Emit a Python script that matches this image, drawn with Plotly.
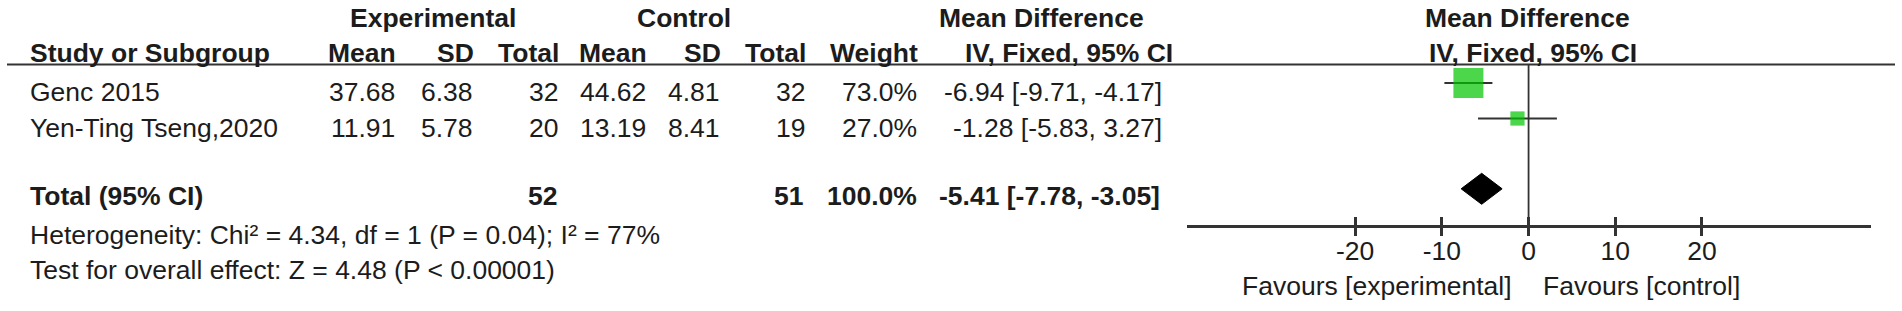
import plotly.graph_objects as go

# ---------------- data ----------------
studies = ["Genc 2015", "Yen-Ting Tseng,2020"]
exp_mean = [37.68, 11.91]
exp_sd = [6.38, 5.78]
exp_n = [32, 20]
ctl_mean = [44.62, 13.19]
ctl_sd = [4.81, 8.41]
ctl_n = [32, 19]
weight = [73.0, 27.0]
md = [-6.94, -1.28]
ci_lo = [-9.71, -5.83]
ci_hi = [-4.17, 3.27]

total_label = "Total (95% CI)"
total_exp_n = 52
total_ctl_n = 51
total_weight = 100.0
total_md = -5.41
total_lo = -7.78
total_hi = -3.05

het_chi2 = 4.34
het_df = 1
het_p = "0.04"
het_i2 = 77
overall_z = 4.48
overall_p = "P < 0.00001"

x_ticks = [-20, -10, 0, 10, 20]
x_ticktext = ["-20", "-10", "0", "10", "20"]
favours_left = "Favours [experimental]"
favours_right = "Favours [control]"

# ---------------- layout constants (pixels) ----------------
W, H = 1902, 311
FONT = "Liberation Sans, Arial, sans-serif"
FS = 26.5
TXT = "#1c1c1c"
LINE = "#333333"
GREEN = "#00c400"

AXIS_Y = 225          # pixel row of the forest x-axis line
HEADER_LINE_Y = 64.5
X_LEFT_PX, X_RIGHT_PX = 1187, 1871
X_RANGE = [-39.4, 39.5]

ROW_TEXT_Y = [92.2, 127.5]
ROW_MARK_Y = [83.0, 118.5]
TOTAL_TEXT_Y = 196
TOTAL_MARK_Y = 188.8
DIAMOND_HALF_H = 15.5
HDR0_Y = 18.3
HDR1_Y = 53
HET_Y = 235
TEST_Y = 270
STUDY_X = 29

COLS = {  # right edges
    "exp_mean": 396, "exp_sd": 474, "exp_n": 559,
    "ctl_mean": 647, "ctl_sd": 721, "ctl_n": 806,
    "weight": 918, "ci": 1163,
}


def px(x):
    return x / W


def py(y):
    return 1 - y / H


annotations = []


def txt(s, x, y, anchor="left", bold=False):
    annotations.append(dict(
        text=f"<b>{s}</b>" if bold else s,
        x=px(x), y=py(y), xref="paper", yref="paper",
        xanchor=anchor, yanchor="middle", showarrow=False,
        borderpad=0, font=dict(family=FONT, size=FS, color=TXT),
    ))


# headers
txt("Experimental", 432.5, HDR0_Y, "center", True)
txt("Control", 683.5, HDR0_Y, "center", True)
txt("Mean Difference", 1041, HDR0_Y, "center", True)
txt("Mean Difference", 1527.5, HDR0_Y, "center", True)
txt("Study or Subgroup", STUDY_X, HDR1_Y, "left", True)
for key, lab in [("exp_mean", "Mean"), ("exp_sd", "SD"), ("exp_n", "Total"),
                 ("ctl_mean", "Mean"), ("ctl_sd", "SD"), ("ctl_n", "Total"),
                 ("weight", "Weight")]:
    txt(lab, COLS[key] + 1, HDR1_Y, "right", True)
txt("IV, Fixed, 95% CI", 1174, HDR1_Y, "right", True)
txt("IV, Fixed, 95% CI", 1428, HDR1_Y, "left", True)

# study rows
for i, s in enumerate(studies):
    y = ROW_TEXT_Y[i]
    txt(s, STUDY_X, y)
    txt(f"{exp_mean[i]:.2f}", COLS["exp_mean"], y, "right")
    txt(f"{exp_sd[i]:.2f}", COLS["exp_sd"], y, "right")
    txt(f"{exp_n[i]}", COLS["exp_n"], y, "right")
    txt(f"{ctl_mean[i]:.2f}", COLS["ctl_mean"], y, "right")
    txt(f"{ctl_sd[i]:.2f}", COLS["ctl_sd"], y, "right")
    txt(f"{ctl_n[i]}", COLS["ctl_n"], y, "right")
    txt(f"{weight[i]:.1f}%", COLS["weight"], y, "right")
    txt(f"{md[i]:.2f} [{ci_lo[i]:.2f}, {ci_hi[i]:.2f}]", COLS["ci"], y, "right")

# total row
txt(total_label, STUDY_X, TOTAL_TEXT_Y, "left", True)
txt(f"{total_exp_n}", COLS["exp_n"] - 1, TOTAL_TEXT_Y, "right", True)
txt(f"{total_ctl_n}", COLS["ctl_n"] - 2, TOTAL_TEXT_Y, "right", True)
txt(f"{total_weight:.1f}%", COLS["weight"], TOTAL_TEXT_Y, "right", True)
txt(f"{total_md:.2f} [{total_lo:.2f}, {total_hi:.2f}]", COLS["ci"] - 2, TOTAL_TEXT_Y, "right", True)

txt(f"Heterogeneity: Chi² = {het_chi2:.2f}, df = {het_df} (P = {het_p}); I² = {het_i2}%",
    STUDY_X, HET_Y)
txt(f"Test for overall effect: Z = {overall_z:.2f} ({overall_p})", STUDY_X, TEST_Y)

# favours labels anchored to the zero of the forest axis
for s, anchor, shift in [(favours_left, "right", -16), (favours_right, "left", 13)]:
    annotations.append(dict(
        text=s, x=0, xref="x", y=py(285.8), yref="paper",
        xanchor=anchor, yanchor="middle", xshift=shift, showarrow=False,
        borderpad=0, font=dict(family=FONT, size=FS, color=TXT),
    ))

fig = go.Figure()

# CI whiskers
wx, wy = [], []
for i in range(len(studies)):
    wx += [ci_lo[i], ci_hi[i], None]
    wy += [ROW_MARK_Y[i], ROW_MARK_Y[i], None]
fig.add_trace(go.Scatter(x=wx, y=wy, mode="lines",
                         line=dict(color=LINE, width=2), hoverinfo="skip"))

# weight squares (side grows with weight)
sizes = [30 * (w / max(weight)) ** 0.75 for w in weight]
fig.add_trace(go.Scatter(x=md, y=ROW_MARK_Y, mode="markers",
                         marker=dict(symbol="square", size=sizes, color=GREEN,
                                     line=dict(width=0)), hoverinfo="skip"))

# pooled diamond
fig.add_trace(go.Scatter(
    x=[total_lo, total_md, total_hi, total_md, total_lo],
    y=[TOTAL_MARK_Y, TOTAL_MARK_Y - DIAMOND_HALF_H, TOTAL_MARK_Y,
       TOTAL_MARK_Y + DIAMOND_HALF_H, TOTAL_MARK_Y],
    mode="lines", fill="toself", fillcolor="black",
    line=dict(color="black", width=1), hoverinfo="skip"))

# upward half of the crossing ticks
fig.add_trace(go.Scatter(x=[None], y=[None], xaxis="x2", yaxis="y",
                         hoverinfo="skip"))

shapes = [
    dict(type="line", xref="paper", yref="paper", x0=px(7), x1=px(1895),
         y0=py(HEADER_LINE_Y), y1=py(HEADER_LINE_Y), line=dict(color=LINE, width=2)),
    dict(type="line", xref="x", yref="y", x0=0, x1=0, y0=HEADER_LINE_Y, y1=AXIS_Y,
         line=dict(color=LINE, width=1.8), layer="below"),
]

common_axis = dict(range=X_RANGE, tickvals=x_ticks, ticktext=x_ticktext,
                   showgrid=False, zeroline=False, fixedrange=True,
                   tickcolor=LINE, tickwidth=2.5, ticklen=8)

fig.update_layout(
    width=W, height=H, margin=dict(l=0, r=0, t=0, b=0),
    paper_bgcolor="white", plot_bgcolor="white", showlegend=False,
    xaxis=dict(domain=[px(X_LEFT_PX), px(X_RIGHT_PX)], anchor="y",
               showline=True, linecolor=LINE, linewidth=3, ticks="outside",
               tickfont=dict(family=FONT, size=FS, color=TXT),
               ticklabelstandoff=-8, **common_axis),
    xaxis2=dict(overlaying="x", matches="x", anchor="y", ticks="inside",
                showticklabels=False, showline=False, **common_axis),
    yaxis=dict(domain=[1 - AXIS_Y / H, 1], range=[AXIS_Y, 0], visible=False,
               fixedrange=True),
    annotations=annotations, shapes=shapes,
)

fig.write_html(
    "out.html",
    config={"displayModeBar": False},
    post_script="document.body.style.margin='0';document.body.style.overflow='hidden';",
)
